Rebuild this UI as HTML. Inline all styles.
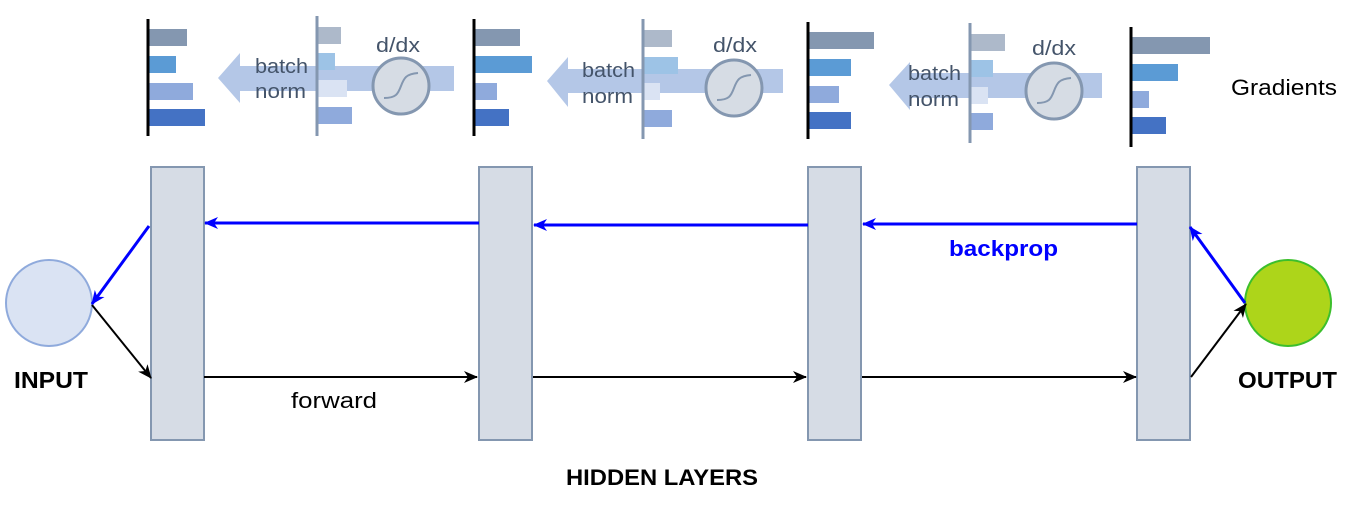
<!DOCTYPE html>
<html><head><meta charset="utf-8"><style>
html,body{margin:0;padding:0;background:#fff;}
svg{display:block;}
text{font-family:"Liberation Sans","Noto Sans CJK KR",sans-serif;}
</style></head><body>
<svg width="1356" height="508" viewBox="0 0 1356 508" xmlns="http://www.w3.org/2000/svg">
<defs>
<marker id="ab" markerWidth="14" markerHeight="12" refX="13" refY="6" orient="auto" markerUnits="userSpaceOnUse"><path d="M0,0 L14,6 L0,12 L4,6 z" fill="#0000ff"/></marker>
<marker id="ak" markerWidth="14" markerHeight="12" refX="13" refY="6" orient="auto" markerUnits="userSpaceOnUse"><path d="M0,0 L14,6 L0,12 L4,6 z" fill="#000"/></marker>
</defs>

<!-- Group 1 -->
<path d="M218,78 L240,53 L240,66 L454,66 L454,91 L240,91 L240,103 Z" fill="#b4c7e7"/>
<rect x="149" y="29" width="38" height="17" fill="#8497b0"/>
<rect x="149" y="56" width="27" height="17" fill="#5b9bd5"/>
<rect x="149" y="83" width="44" height="17" fill="#8faadc"/>
<rect x="149" y="109" width="56" height="17" fill="#4472c4"/>
<line x1="148" y1="19" x2="148" y2="136" stroke="#000" stroke-width="3"/>
<rect x="318" y="27" width="23" height="17" fill="#adb9ca"/>
<rect x="318" y="53" width="17" height="17" fill="#9dc3e6"/>
<rect x="318" y="80" width="29" height="17" fill="#dae3f3"/>
<rect x="318" y="107" width="34" height="17" fill="#8faadc"/>
<line x1="317" y1="16" x2="317" y2="136" stroke="#8497b0" stroke-width="3"/>
<circle cx="401" cy="86" r="28" fill="#d6dce4" stroke="#8497b0" stroke-width="3"/>
<path d="M384,98 C396,98 398,94 401,86 C404,78 406,74 418,73" fill="none" stroke="#8497b0" stroke-width="2"/>
<text x="376" y="52" font-size="20" fill="#44546a" textLength="44" lengthAdjust="spacingAndGlyphs">d/dx</text>
<text x="255" y="73" font-size="20" fill="#44546a" textLength="53" lengthAdjust="spacingAndGlyphs">batch</text>
<text x="255" y="98" font-size="20" fill="#44546a" textLength="51" lengthAdjust="spacingAndGlyphs">norm</text>

<!-- Group 2 -->
<path d="M547,81 L568,57 L568,69 L783,69 L783,93 L568,93 L568,107 Z" fill="#b4c7e7"/>
<rect x="475" y="29" width="45" height="17" fill="#8497b0"/>
<rect x="475" y="56" width="57" height="17" fill="#5b9bd5"/>
<rect x="475" y="83" width="22" height="17" fill="#8faadc"/>
<rect x="475" y="109" width="34" height="17" fill="#4472c4"/>
<line x1="474" y1="19" x2="474" y2="136" stroke="#000" stroke-width="3"/>
<rect x="644" y="30" width="28" height="17" fill="#adb9ca"/>
<rect x="644" y="57" width="34" height="17" fill="#9dc3e6"/>
<rect x="644" y="83" width="16" height="17" fill="#dae3f3"/>
<rect x="644" y="110" width="28" height="17" fill="#8faadc"/>
<line x1="643" y1="19" x2="643" y2="139" stroke="#8497b0" stroke-width="3"/>
<circle cx="734" cy="88" r="28" fill="#d6dce4" stroke="#8497b0" stroke-width="3"/>
<path d="M717,100 C729,100 731,96 734,88 C737,80 739,76 751,75" fill="none" stroke="#8497b0" stroke-width="2"/>
<text x="713" y="52" font-size="20" fill="#44546a" textLength="44" lengthAdjust="spacingAndGlyphs">d/dx</text>
<text x="582" y="77" font-size="20" fill="#44546a" textLength="53" lengthAdjust="spacingAndGlyphs">batch</text>
<text x="582" y="103" font-size="20" fill="#44546a" textLength="51" lengthAdjust="spacingAndGlyphs">norm</text>

<!-- Group 3 -->
<path d="M889,85 L910,62 L910,73 L1102,73 L1102,98 L910,98 L910,110 Z" fill="#b4c7e7"/>
<rect x="809" y="32" width="65" height="17" fill="#8497b0"/>
<rect x="809" y="59" width="42" height="17" fill="#5b9bd5"/>
<rect x="809" y="86" width="30" height="17" fill="#8faadc"/>
<rect x="809" y="112" width="42" height="17" fill="#4472c4"/>
<line x1="808" y1="22" x2="808" y2="139" stroke="#000" stroke-width="3"/>
<rect x="971" y="34" width="34" height="17" fill="#adb9ca"/>
<rect x="971" y="60" width="22" height="17" fill="#9dc3e6"/>
<rect x="971" y="87" width="17" height="17" fill="#dae3f3"/>
<rect x="971" y="113" width="22" height="17" fill="#8faadc"/>
<line x1="970" y1="23" x2="970" y2="143" stroke="#8497b0" stroke-width="3"/>
<circle cx="1054" cy="91" r="28" fill="#d6dce4" stroke="#8497b0" stroke-width="3"/>
<path d="M1037,103 C1049,103 1051,99 1054,91 C1057,83 1059,79 1071,78" fill="none" stroke="#8497b0" stroke-width="2"/>
<text x="1032" y="55" font-size="20" fill="#44546a" textLength="44" lengthAdjust="spacingAndGlyphs">d/dx</text>
<text x="908" y="80" font-size="20" fill="#44546a" textLength="53" lengthAdjust="spacingAndGlyphs">batch</text>
<text x="908" y="106" font-size="20" fill="#44546a" textLength="51" lengthAdjust="spacingAndGlyphs">norm</text>

<!-- Group 4 -->
<rect x="1132" y="37" width="78" height="17" fill="#8497b0"/>
<rect x="1132" y="64" width="46" height="17" fill="#5b9bd5"/>
<rect x="1132" y="91" width="17" height="17" fill="#8faadc"/>
<rect x="1132" y="117" width="34" height="17" fill="#4472c4"/>
<line x1="1131" y1="27" x2="1131" y2="147" stroke="#000" stroke-width="3"/>
<text x="1231" y="95" font-size="22" fill="#000" textLength="106" lengthAdjust="spacingAndGlyphs">Gradients</text>

<!-- Layers -->
<rect x="151" y="167" width="53" height="273" fill="#d6dce5" stroke="#8497b0" stroke-width="2"/>
<rect x="479" y="167" width="53" height="273" fill="#d6dce5" stroke="#8497b0" stroke-width="2"/>
<rect x="808" y="167" width="53" height="273" fill="#d6dce5" stroke="#8497b0" stroke-width="2"/>
<rect x="1137" y="167" width="53" height="273" fill="#d6dce5" stroke="#8497b0" stroke-width="2"/>

<circle cx="49" cy="303" r="43" fill="#dae3f3" stroke="#8faadc" stroke-width="2"/>
<circle cx="1288" cy="303" r="43" fill="#add51a" stroke="#3cbf2c" stroke-width="2"/>

<!-- backprop arrows -->
<line x1="479" y1="223" x2="205" y2="223" stroke="#0000ff" stroke-width="3" marker-end="url(#ab)"/>
<line x1="808" y1="225" x2="534" y2="225" stroke="#0000ff" stroke-width="3" marker-end="url(#ab)"/>
<line x1="1137" y1="224" x2="863" y2="224" stroke="#0000ff" stroke-width="3" marker-end="url(#ab)"/>
<line x1="149" y1="226" x2="92" y2="304" stroke="#0000ff" stroke-width="3" marker-end="url(#ab)"/>
<line x1="1245" y1="303" x2="1190" y2="227" stroke="#0000ff" stroke-width="3" marker-end="url(#ab)"/>

<!-- forward arrows -->
<line x1="204" y1="377" x2="477" y2="377" stroke="#000" stroke-width="2" marker-end="url(#ak)"/>
<line x1="533" y1="377" x2="806" y2="377" stroke="#000" stroke-width="2" marker-end="url(#ak)"/>
<line x1="862" y1="377" x2="1136" y2="377" stroke="#000" stroke-width="2" marker-end="url(#ak)"/>
<line x1="92" y1="305" x2="151" y2="378" stroke="#000" stroke-width="2" marker-end="url(#ak)"/>
<line x1="1191" y1="377" x2="1246" y2="304" stroke="#000" stroke-width="2" marker-end="url(#ak)"/>

<text x="14" y="388" font-size="23" font-weight="bold" fill="#000" textLength="74" lengthAdjust="spacingAndGlyphs">INPUT</text>
<text x="1238" y="388" font-size="23" font-weight="bold" fill="#000" textLength="99" lengthAdjust="spacingAndGlyphs">OUTPUT</text>
<text x="291" y="408" font-size="22" fill="#000" textLength="86" lengthAdjust="spacingAndGlyphs">forward</text>
<text x="949" y="256" font-size="22" font-weight="bold" fill="#0000ff" textLength="109" lengthAdjust="spacingAndGlyphs">backprop</text>
<text x="566" y="485" font-size="22" font-weight="bold" fill="#000" textLength="192" lengthAdjust="spacingAndGlyphs">HIDDEN LAYERS</text>
</svg>
</body></html>
